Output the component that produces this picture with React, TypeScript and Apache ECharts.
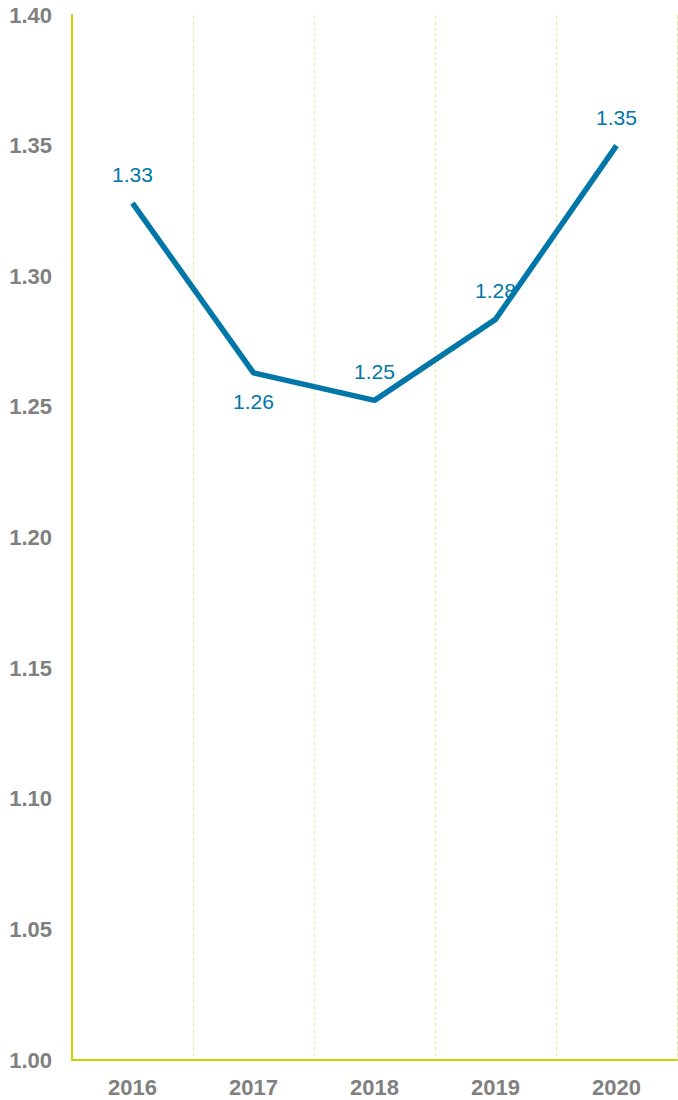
import React, { useEffect, useRef } from "react";
import * as echarts from "echarts";

const years = ["2016", "2017", "2018", "2019", "2020"];
const values = [1.328, 1.263, 1.2525, 1.2835, 1.35];
const labelPositions = ["top", "bottom", "top", "top", "top"];

export default function App() {
  const ref = useRef<HTMLDivElement>(null);
  useEffect(() => {
    const chart = echarts.init(ref.current!, null, { renderer: "svg" });
    chart.setOption({
      animation: false,
      grid: { left: 72, right: 1, top: 15, bottom: 40 },
      xAxis: {
        type: "category",
        data: years,
        boundaryGap: true,
        axisLine: { lineStyle: { color: "#c8d400", width: 2 } },
        axisTick: { show: false },
        axisLabel: {
          color: "#808080",
          fontWeight: "bold",
          fontSize: 22,
          fontFamily: "Liberation Sans, Arial, sans-serif",
          margin: 16,
        },
        splitLine: {
          show: true,
          lineStyle: { color: "#e8f0a8", type: "dashed", width: 1 },
        },
      },
      yAxis: {
        type: "value",
        min: 1.0,
        max: 1.4,
        interval: 0.05,
        axisLine: { show: true, lineStyle: { color: "#c8d400", width: 2 } },
        axisTick: { show: false },
        splitLine: { show: false },
        axisLabel: {
          color: "#808080",
          fontWeight: "bold",
          fontSize: 22,
          fontFamily: "Liberation Sans, Arial, sans-serif",
          margin: 20,
          formatter: (v: number) => v.toFixed(2),
        },
      },
      series: [
        {
          type: "line",
          data: values.map((v, i) => ({
            value: v,
            label: { show: true, position: labelPositions[i] },
          })),
          symbol: "circle",
          symbolSize: 0,
          showSymbol: true,
          lineStyle: { color: "#0077a8", width: 5.5 },
          itemStyle: { color: "#0077a8" },
          label: {
            show: true,
            color: "#0077a8",
            fontSize: 21,
            fontFamily: "Liberation Sans, Arial, sans-serif",
            distance: 18,
            formatter: (p: any) => p.value.toFixed(2),
          },
        },
      ],
    });
    return () => chart.dispose();
  }, []);
  return <div ref={ref} style={{ width: 678, height: 1100, position: "absolute", left: 0, top: 0 }} />;
}
